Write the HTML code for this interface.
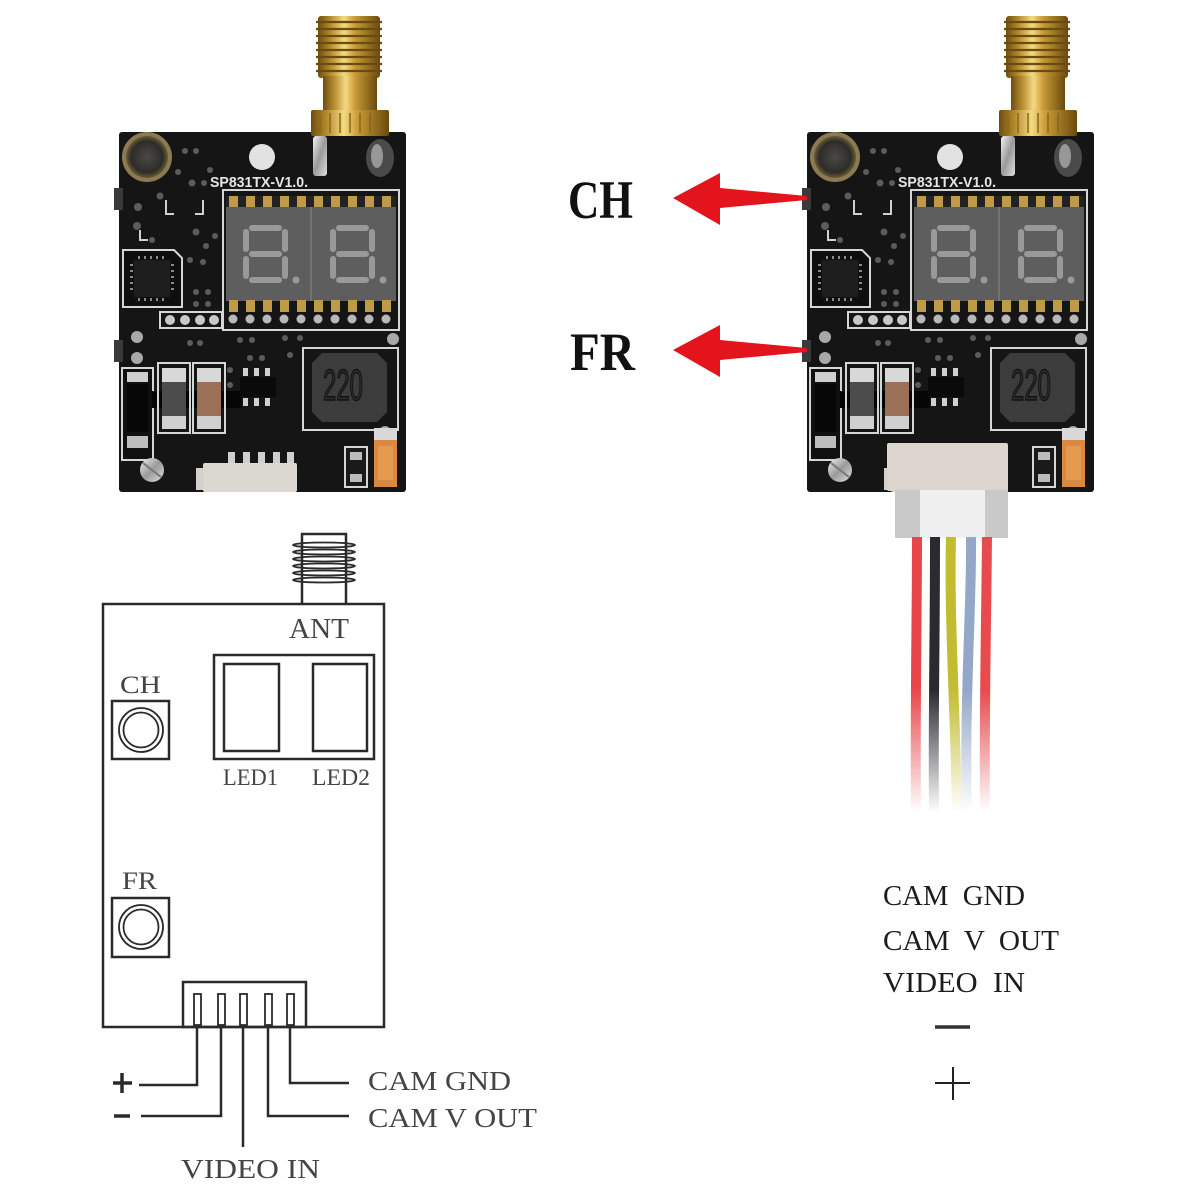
<!DOCTYPE html>
<html><head><meta charset="utf-8"><style>
html,body{margin:0;padding:0;background:#fff;width:1200px;height:1200px;overflow:hidden}
svg{display:block}
</style></head><body>
<svg width="1200" height="1200" viewBox="0 0 1200 1200" xmlns="http://www.w3.org/2000/svg">
<defs>
<linearGradient id="gold" x1="0" x2="1" y1="0" y2="0">
<stop offset="0" stop-color="#6e4e10"/><stop offset="0.2" stop-color="#b48a2c"/><stop offset="0.42" stop-color="#f4da82"/><stop offset="0.6" stop-color="#c89a36"/><stop offset="1" stop-color="#6a4a0e"/>
</linearGradient>
<linearGradient id="silver" x1="0" x2="1" y1="0" y2="1">
<stop offset="0" stop-color="#f2f2f2"/><stop offset="0.5" stop-color="#9a9a9a"/><stop offset="1" stop-color="#e0e0e0"/>
</linearGradient>
<radialGradient id="mic" cx="0.5" cy="0.5" r="0.5">
<stop offset="0" stop-color="#4a4a46"/><stop offset="0.75" stop-color="#2e2c28"/><stop offset="1" stop-color="#6a5a3a"/>
</radialGradient>
<linearGradient id="fade" gradientUnits="userSpaceOnUse" x1="0" y1="690" x2="0" y2="812">
<stop offset="0" stop-color="#fff"/><stop offset="1" stop-color="#000"/>
</linearGradient>
<mask id="wm"><rect x="880" y="530" width="140" height="300" fill="url(#fade)"/></mask>

<g id="pcb">
 <rect x="119" y="132" width="287" height="360" rx="3" fill="#151515"/>
 <rect x="114" y="188" width="9" height="22" fill="#3a3a3a"/>
 <rect x="114" y="340" width="9" height="22" fill="#3a3a3a"/>
 <rect x="318" y="16" width="62" height="62" rx="3" fill="url(#gold)"/>
 <g stroke="#6a4c12" stroke-width="2.2">
  <line x1="316" y1="22" x2="382" y2="22"/><line x1="316" y1="29" x2="382" y2="29"/>
  <line x1="316" y1="36" x2="382" y2="36"/><line x1="316" y1="43" x2="382" y2="43"/>
  <line x1="316" y1="50" x2="382" y2="50"/><line x1="316" y1="57" x2="382" y2="57"/>
  <line x1="316" y1="64" x2="382" y2="64"/><line x1="316" y1="71" x2="382" y2="71"/>
 </g>
 <rect x="323" y="76" width="54" height="36" fill="url(#gold)"/>
 <rect x="311" y="110" width="78" height="26" rx="2" fill="url(#gold)"/>
 <g stroke="#8a6618" stroke-width="1.5">
  <line x1="320" y1="113" x2="320" y2="133"/><line x1="330" y1="113" x2="330" y2="133"/><line x1="340" y1="113" x2="340" y2="133"/>
  <line x1="350" y1="113" x2="350" y2="133"/><line x1="360" y1="113" x2="360" y2="133"/><line x1="370" y1="113" x2="370" y2="133"/><line x1="380" y1="113" x2="380" y2="133"/>
 </g>
 <rect x="313" y="136" width="14" height="40" rx="3" fill="url(#silver)"/>
 <ellipse cx="380" cy="158" rx="14" ry="19" fill="#4a4a4a"/>
 <ellipse cx="377" cy="156" rx="6" ry="12" fill="#b8b8b8" opacity="0.7"/>
 <circle cx="147" cy="157" r="25" fill="#8c7a50"/>
 <circle cx="147" cy="157" r="21" fill="url(#mic)"/>
 <circle cx="262" cy="157" r="13" fill="#e2e2e2"/>
 <g fill="#5c5c5c">
  <circle cx="185" cy="151" r="3"/><circle cx="196" cy="151" r="3"/><circle cx="178" cy="172" r="3"/><circle cx="192" cy="183" r="3.5"/>
  <circle cx="204" cy="183" r="3"/><circle cx="210" cy="170" r="3"/><circle cx="160" cy="196" r="3.5"/><circle cx="138" cy="207" r="4"/>
  <circle cx="137" cy="226" r="4"/><circle cx="152" cy="240" r="3"/><circle cx="196" cy="232" r="3.5"/><circle cx="206" cy="246" r="3"/>
  <circle cx="215" cy="236" r="3"/><circle cx="190" cy="260" r="3"/><circle cx="203" cy="262" r="3"/><circle cx="196" cy="292" r="3"/>
  <circle cx="208" cy="292" r="3"/><circle cx="196" cy="304" r="3"/><circle cx="208" cy="304" r="3"/>
  <circle cx="190" cy="343" r="3"/><circle cx="200" cy="343" r="3"/><circle cx="240" cy="340" r="3"/><circle cx="252" cy="340" r="3"/>
  <circle cx="285" cy="338" r="3"/><circle cx="300" cy="338" r="3"/><circle cx="250" cy="358" r="3"/><circle cx="262" cy="358" r="3"/>
  <circle cx="230" cy="370" r="3"/><circle cx="230" cy="385" r="3"/><circle cx="290" cy="355" r="3"/>
 </g>
 <g fill="#a8a8a8"><circle cx="137" cy="337" r="6"/><circle cx="137" cy="358" r="6"/><circle cx="393" cy="339" r="6"/><circle cx="385" cy="432" r="6"/></g>
 <g stroke="#d0d0d0" stroke-width="2" fill="none">
  <path d="M166,200 V214 H174"/><path d="M195,214 H203 V200"/><path d="M140,230 V240 H148"/>
 </g>
 <rect x="223" y="190" width="176" height="140" fill="none" stroke="#d6d6d6" stroke-width="2"/>
 <rect x="226" y="196" width="170" height="12" fill="#222"/>
 <g fill="#bf9a48">
  <rect x="229" y="196" width="9" height="12"/><rect x="246" y="196" width="9" height="12"/><rect x="263" y="196" width="9" height="12"/>
  <rect x="280" y="196" width="9" height="12"/><rect x="297" y="196" width="9" height="12"/><rect x="314" y="196" width="9" height="12"/>
  <rect x="331" y="196" width="9" height="12"/><rect x="348" y="196" width="9" height="12"/><rect x="365" y="196" width="9" height="12"/><rect x="382" y="196" width="9" height="12"/>
 </g>
 <rect x="226" y="207" width="170" height="94" fill="#5e5e5e"/>
 <line x1="311" y1="207" x2="311" y2="301" stroke="#7a7a7a" stroke-width="1.5"/>
 <g fill="#bf9a48">
  <rect x="229" y="300" width="9" height="12"/><rect x="246" y="300" width="9" height="12"/><rect x="263" y="300" width="9" height="12"/>
  <rect x="280" y="300" width="9" height="12"/><rect x="297" y="300" width="9" height="12"/><rect x="314" y="300" width="9" height="12"/>
  <rect x="331" y="300" width="9" height="12"/><rect x="348" y="300" width="9" height="12"/><rect x="365" y="300" width="9" height="12"/><rect x="382" y="300" width="9" height="12"/>
 </g>
 <g fill="#b8b8b8">
  <circle cx="233" cy="319" r="4.5"/><circle cx="250" cy="319" r="4.5"/><circle cx="267" cy="319" r="4.5"/><circle cx="284" cy="319" r="4.5"/><circle cx="301" cy="319" r="4.5"/>
  <circle cx="318" cy="319" r="4.5"/><circle cx="335" cy="319" r="4.5"/><circle cx="352" cy="319" r="4.5"/><circle cx="369" cy="319" r="4.5"/><circle cx="386" cy="319" r="4.5"/>
 </g>
 <g fill="#999">
  <rect x="249" y="225" width="33" height="6" rx="3"/><rect x="249" y="251" width="33" height="6" rx="3"/><rect x="249" y="277" width="33" height="6" rx="3"/>
  <rect x="243" y="229" width="6" height="23" rx="3"/><rect x="282" y="229" width="6" height="23" rx="3"/>
  <rect x="243" y="256" width="6" height="23" rx="3"/><rect x="282" y="256" width="6" height="23" rx="3"/>
  <circle cx="296" cy="280" r="3.5"/>
  <rect x="336" y="225" width="33" height="6" rx="3"/><rect x="336" y="251" width="33" height="6" rx="3"/><rect x="336" y="277" width="33" height="6" rx="3"/>
  <rect x="330" y="229" width="6" height="23" rx="3"/><rect x="369" y="229" width="6" height="23" rx="3"/>
  <rect x="330" y="256" width="6" height="23" rx="3"/><rect x="369" y="256" width="6" height="23" rx="3"/>
  <circle cx="383" cy="280" r="3.5"/>
 </g>
 <path d="M123,250 H174 L182,258 V307 H123 Z" fill="#0e0e0e" stroke="#d6d6d6" stroke-width="2"/>
 <rect x="134" y="260" width="36" height="37" fill="#1e1e1e"/>
 <g fill="#8a8a8a">
  <rect x="138" y="256" width="2" height="3"/><rect x="144" y="256" width="2" height="3"/><rect x="150" y="256" width="2" height="3"/><rect x="156" y="256" width="2" height="3"/><rect x="162" y="256" width="2" height="3"/>
  <rect x="138" y="298" width="2" height="3"/><rect x="144" y="298" width="2" height="3"/><rect x="150" y="298" width="2" height="3"/><rect x="156" y="298" width="2" height="3"/><rect x="162" y="298" width="2" height="3"/>
  <rect x="130" y="264" width="3" height="2"/><rect x="130" y="270" width="3" height="2"/><rect x="130" y="276" width="3" height="2"/><rect x="130" y="282" width="3" height="2"/><rect x="130" y="288" width="3" height="2"/>
  <rect x="171" y="264" width="3" height="2"/><rect x="171" y="270" width="3" height="2"/><rect x="171" y="276" width="3" height="2"/><rect x="171" y="282" width="3" height="2"/><rect x="171" y="288" width="3" height="2"/>
 </g>
 <rect x="160" y="312" width="62" height="16" fill="none" stroke="#d6d6d6" stroke-width="2"/>
 <g fill="#c8c8c8"><circle cx="170" cy="320" r="5"/><circle cx="185" cy="320" r="5"/><circle cx="200" cy="320" r="5"/><circle cx="214" cy="320" r="5"/></g>
 <rect x="122" y="368" width="31" height="92" fill="#111" stroke="#d6d6d6" stroke-width="2"/>
 <rect x="127" y="372" width="21" height="10" fill="#cfcfcf"/>
 <rect x="127" y="384" width="21" height="48" fill="#070707"/>
 <rect x="127" y="436" width="21" height="12" fill="#bdbdbd"/>
 <rect x="152" y="391" width="90" height="17" fill="#050505"/>
 <rect x="158" y="363" width="32" height="70" fill="none" stroke="#d6d6d6" stroke-width="2"/>
 <rect x="162" y="368" width="24" height="14" fill="#d8d8d8"/><rect x="162" y="382" width="24" height="34" fill="#4c4c4c"/><rect x="162" y="416" width="24" height="13" fill="#d0d0d0"/>
 <rect x="193" y="363" width="32" height="70" fill="none" stroke="#d6d6d6" stroke-width="2"/>
 <rect x="197" y="368" width="24" height="14" fill="#d8d8d8"/><rect x="197" y="382" width="24" height="34" fill="#9a7058"/><rect x="197" y="416" width="24" height="13" fill="#d0d0d0"/>
 <rect x="240" y="377" width="36" height="20" fill="#0a0a0a"/>
 <g fill="#cfcfcf"><rect x="243" y="368" width="5" height="8"/><rect x="254" y="368" width="5" height="8"/><rect x="265" y="368" width="5" height="8"/>
 <rect x="243" y="398" width="5" height="8"/><rect x="254" y="398" width="5" height="8"/><rect x="265" y="398" width="5" height="8"/></g>
 <rect x="303" y="348" width="95" height="82" fill="none" stroke="#d6d6d6" stroke-width="2"/>
 <path d="M322,353 H377 L387,363 V412 L377,422 H322 L312,412 V363 Z" fill="#3c3c3c"/>
 <g fill="#cfcfcf"><rect x="228" y="452" width="7" height="14"/><rect x="243" y="452" width="7" height="14"/><rect x="258" y="452" width="7" height="14"/><rect x="273" y="452" width="7" height="14"/><rect x="287" y="452" width="7" height="14"/></g>
 <rect x="196" y="468" width="12" height="22" fill="#d4d0ca"/>
 <rect x="203" y="463" width="94" height="29" rx="2" fill="#dbd7d1"/>
 <rect x="345" y="447" width="22" height="40" fill="#1a1a1a" stroke="#d6d6d6" stroke-width="2"/>
 <rect x="350" y="452" width="12" height="8" fill="#bbb"/><rect x="350" y="474" width="12" height="8" fill="#bbb"/>
 <rect x="374" y="428" width="23" height="12" fill="#d8d8d8"/>
 <rect x="374" y="440" width="23" height="47" fill="#d98a40"/>
 <rect x="378" y="446" width="15" height="34" fill="#e69a50"/>
 <circle cx="152" cy="470" r="12" fill="url(#silver)"/>
 <line x1="143" y1="463" x2="161" y2="477" stroke="#777" stroke-width="2"/>
</g>
</defs>

<use href="#pcb"/>
<use href="#pcb" x="688"/>

<rect x="887" y="443" width="121" height="48" rx="2" fill="#dcd6cf"/>
<rect x="895" y="490" width="113" height="48" fill="#c9c9c9"/>
<rect x="920" y="490" width="65" height="48" fill="#f0f0f0"/>

<g mask="url(#wm)" fill="none" stroke-width="10" stroke-linecap="butt">
 <path d="M917,537 C917,620 915,700 916,812" stroke="#e8464a"/>
 <path d="M935,537 C935,650 933,720 934,812" stroke="#2a2a30"/>
 <path d="M951,537 C949,620 955,700 957,812" stroke="#c4bc30"/>
 <path d="M971,537 C972,600 964,700 967,812" stroke="#93a8c8"/>
 <path d="M987,537 C986,640 984,720 985,812" stroke="#e84a4e"/>
</g>

<text x="210" y="187" font-family="Liberation Sans, sans-serif" font-weight="bold" font-size="15" fill="#e6e6e6" textLength="98" lengthAdjust="spacingAndGlyphs">SP831TX-V1.0.</text>
<text x="898" y="187" font-family="Liberation Sans, sans-serif" font-weight="bold" font-size="15" fill="#e6e6e6" textLength="98" lengthAdjust="spacingAndGlyphs">SP831TX-V1.0.</text>
<text x="323" y="400" font-family="Liberation Sans, sans-serif" font-size="44" fill="#2c2c2c" stroke="#111" stroke-width="1.5" textLength="40" lengthAdjust="spacingAndGlyphs">220</text>
<text x="1011" y="400" font-family="Liberation Sans, sans-serif" font-size="44" fill="#2c2c2c" stroke="#111" stroke-width="1.5" textLength="40" lengthAdjust="spacingAndGlyphs">220</text>

<polygon points="673,198 720,173 720,188 807,196 807,200 720,208 720,225" fill="#e3141c"/>
<polygon points="673,350 720,325 720,340 807,348 807,352 720,360 720,377" fill="#e3141c"/>
<text x="568" y="218" font-family="Liberation Serif, serif" font-weight="bold" font-size="54" fill="#111" textLength="65" lengthAdjust="spacingAndGlyphs">CH</text>
<text x="570" y="370" font-family="Liberation Serif, serif" font-weight="bold" font-size="54" fill="#111" textLength="65" lengthAdjust="spacingAndGlyphs">FR</text>

<g fill="none" stroke="#2a2a2a" stroke-width="2.5">
 <rect x="103" y="604" width="281" height="423"/>
 <path d="M302,604 V534 H346 V604"/>
 <rect x="214" y="655" width="160" height="104"/>
 <rect x="224" y="664" width="55" height="87"/>
 <rect x="313" y="664" width="54" height="87"/>
 <rect x="112" y="701" width="57" height="58"/>
 <rect x="112" y="898" width="57" height="59"/>
 <rect x="183" y="982" width="123" height="45"/>
 <path d="M197,1027 V1085 H139"/>
 <path d="M221,1027 V1116 H141"/>
 <path d="M243,1027 V1147"/>
 <path d="M268,1027 V1116 H349"/>
 <path d="M290,1027 V1083 H349"/>
</g>
<g fill="none" stroke="#2a2a2a" stroke-width="1.8">
 <ellipse cx="324" cy="545" rx="31" ry="2.5"/><ellipse cx="324" cy="552" rx="31" ry="2.5"/><ellipse cx="324" cy="559" rx="31" ry="2.5"/>
 <ellipse cx="324" cy="566" rx="31" ry="2.5"/><ellipse cx="324" cy="573" rx="31" ry="2.5"/><ellipse cx="324" cy="580" rx="31" ry="2.5"/>
 <circle cx="141" cy="730" r="22"/><circle cx="141" cy="730" r="17.5"/>
 <circle cx="141" cy="927" r="22"/><circle cx="141" cy="927" r="17.5"/>
 <rect x="194" y="994" width="7" height="31"/><rect x="218" y="994" width="7" height="31"/><rect x="240" y="994" width="7" height="31"/>
 <rect x="265" y="994" width="7" height="31"/><rect x="287" y="994" width="7" height="31"/>
</g>
<g stroke="#2a2a2a" stroke-width="3.5">
 <line x1="113" y1="1083" x2="132" y2="1083"/><line x1="122" y1="1073" x2="122" y2="1093"/>
 <line x1="114" y1="1116" x2="130" y2="1116"/>
</g>
<g font-family="Liberation Serif, serif" fill="#444">
 <text x="289" y="638" font-size="28" textLength="60" lengthAdjust="spacingAndGlyphs">ANT</text>
 <text x="223" y="785" font-size="23" textLength="55" lengthAdjust="spacingAndGlyphs">LED1</text>
 <text x="312" y="785" font-size="23" textLength="58" lengthAdjust="spacingAndGlyphs">LED2</text>
 <text x="120" y="693" font-size="25" textLength="41" lengthAdjust="spacingAndGlyphs">CH</text>
 <text x="122" y="889" font-size="25" textLength="35" lengthAdjust="spacingAndGlyphs">FR</text>
 <text x="368" y="1090" font-size="27" textLength="143" lengthAdjust="spacingAndGlyphs">CAM GND</text>
 <text x="368" y="1127" font-size="27" textLength="169" lengthAdjust="spacingAndGlyphs">CAM V OUT</text>
 <text x="181" y="1178" font-size="27" textLength="139" lengthAdjust="spacingAndGlyphs">VIDEO IN</text>
</g>

<g font-family="Liberation Serif, serif" fill="#1c1c1c" font-size="28" style="white-space:pre">
 <text x="883" y="905" textLength="142" lengthAdjust="spacingAndGlyphs" style="white-space:pre">CAM  GND</text>
 <text x="883" y="950" textLength="176" lengthAdjust="spacingAndGlyphs" style="white-space:pre">CAM  V  OUT</text>
 <text x="883" y="992" textLength="142" lengthAdjust="spacingAndGlyphs" style="white-space:pre">VIDEO  IN</text>
</g>
<line x1="935" y1="1027" x2="970" y2="1027" stroke="#333" stroke-width="3.5"/>
<line x1="935" y1="1083" x2="970" y2="1083" stroke="#222" stroke-width="2"/>
<line x1="953" y1="1067" x2="953" y2="1100" stroke="#222" stroke-width="2"/>
</svg>
</body></html>
